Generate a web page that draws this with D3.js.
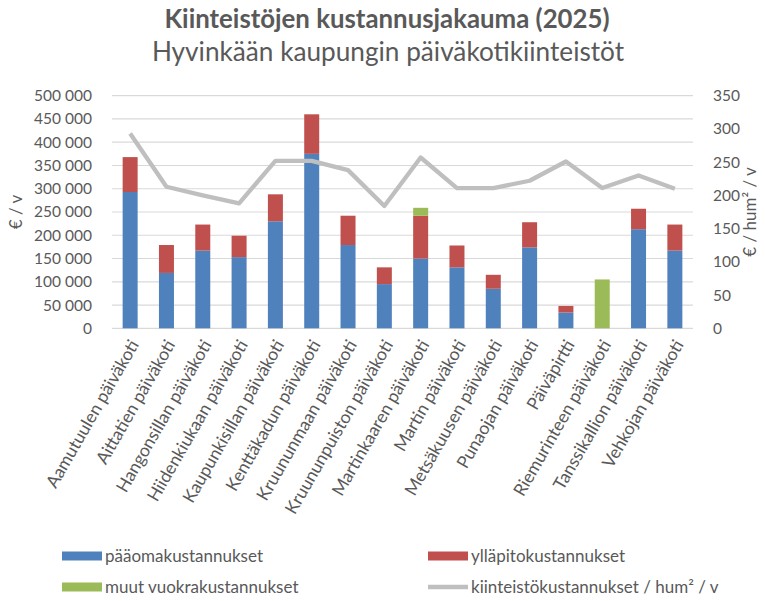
<!DOCTYPE html>
<html>
<head>
<meta charset="utf-8">
<script src="https://cdn.jsdelivr.net/npm/d3@7"></script>
<style>
  body { margin: 0; background: #fff; }
  svg text { font-family: Lato, "Open Sans", sans-serif; fill: #595959; }
</style>
</head>
<body>
<svg id="chart" width="765" height="601"></svg>
<script>
const categories = [
    'Aamutuulen päiväkoti', 'Aittatien päiväkoti', 'Hangonsillan päiväkoti',
    'Hiidenkiukaan päiväkoti', 'Kaupunkisillan päiväkoti', 'Kenttäkadun päiväkoti',
    'Kruununmaan päiväkoti', 'Kruununpuiston päiväkoti', 'Martinkaaren päiväkoti',
    'Martin päiväkoti', 'Metsäkuusen päiväkoti', 'Punaojan päiväkoti',
    'Päiväpirtti', 'Riemurinteen päiväkoti', 'Tanssikallion päiväkoti', 'Vehkojan päiväkoti'
];
// € / v
const capital     = [293000, 119000, 167000, 153000, 230000, 375000, 179000, 95000, 150000, 131000, 85000, 174000, 34000, 0, 213000, 167000];
const maintenance = [75000, 60000, 56000, 46000, 58000, 85000, 63000, 36000, 92000, 47000, 30000, 54000, 14000, 0, 44000, 56000];
const otherRent   = [0, 0, 0, 0, 0, 0, 0, 0, 17000, 0, 0, 0, 0, 105000, 0, 0];
// € / hum² / v
const costPerM2   = [293, 213, 200, 188, 252, 252, 238, 184, 257, 211, 211, 222, 251, 211, 230, 210];

const leftTicks = d3.range(0, 500001, 50000);
const rightTicks = d3.range(0, 351, 50);

const seriesNames = ['pääomakustannukset', 'ylläpitokustannukset', 'muut vuokrakustannukset'];
const lineName = 'kiinteistökustannukset / hum² / v';
const colors = ['#4f81bd', '#c0504d', '#9bbb59'];
const lineColor = '#bfbfbf';

const svg = d3.select('#chart');
const plot = {left: 112, right: 693, top: 95.7, bottom: 328.3};

const x = d3.scaleBand()
    .domain(categories)
    .range([plot.left, plot.right])
    .paddingInner(0.587)
    .paddingOuter(0.293);
const yLeft = d3.scaleLinear().domain([0, 500000]).range([plot.bottom, plot.top]);
const yRight = d3.scaleLinear().domain([0, 350]).range([plot.bottom, plot.top]);

const fmt = d3.formatLocale({decimal: ',', thousands: ' ', grouping: [3], currency: ['', '€']}).format(',d');

// gridlines
svg.append('g')
    .selectAll('line')
    .data(leftTicks)
    .enter()
    .append('line')
    .attr('x1', plot.left)
    .attr('x2', plot.right)
    .attr('y1', d => yLeft(d))
    .attr('y2', d => yLeft(d))
    .attr('stroke', '#d9d9d9')
    .attr('stroke-width', 1.2);

// stacked bars
const rows = categories.map((c, i) => ({
    name: c, s0: capital[i], s1: maintenance[i], s2: otherRent[i]
}));
const stack = d3.stack().keys(['s0', 's1', 's2'])(rows);

svg.append('g')
    .selectAll('g')
    .data(stack)
    .enter()
    .append('g')
    .attr('fill', (d, i) => colors[i])
    .selectAll('rect')
    .data(d => d)
    .enter()
    .append('rect')
    .attr('x', d => x(d.data.name))
    .attr('width', x.bandwidth())
    .attr('y', d => yLeft(d[1]))
    .attr('height', d => yLeft(d[0]) - yLeft(d[1]));

// line on right axis
const line = d3.line()
    .x((d, i) => x(categories[i]) + x.bandwidth() / 2)
    .y(d => yRight(d));

svg.append('path')
    .datum(costPerM2)
    .attr('d', line)
    .attr('fill', 'none')
    .attr('stroke', lineColor)
    .attr('stroke-width', 4.3)
    .attr('stroke-linejoin', 'round');

// axes
const leftAxis = svg.append('g')
    .attr('transform', 'translate(' + (plot.left - 17) + ',0)')
    .call(d3.axisLeft(yLeft).tickValues(leftTicks).tickFormat(fmt).tickSize(0));
const rightAxis = svg.append('g')
    .attr('transform', 'translate(' + (plot.right + 17) + ',0)')
    .call(d3.axisRight(yRight).tickValues(rightTicks).tickSize(0));
[leftAxis, rightAxis].forEach(a => {
    a.select('.domain').remove();
    a.selectAll('text')
        .attr('fill', '#595959')
        .style('font-size', '15.5px')
        .attr('font-family', null);
});

const xAxis = svg.append('g')
    .attr('transform', 'translate(0,' + plot.bottom + ')')
    .call(d3.axisBottom(x).tickSize(0));
xAxis.select('.domain').remove();
xAxis.selectAll('text')
    .attr('fill', '#595959')
    .style('font-size', '17.5px')
    .attr('font-family', null)
    .attr('text-anchor', 'end')
    .attr('dy', '0.35em')
    .attr('transform', 'translate(4,13) rotate(-60)')
    .attr('y', 0);

// axis titles
svg.append('text')
    .attr('transform', 'translate(22,212) rotate(-90)')
    .attr('text-anchor', 'middle')
    .style('font-size', '17px')
    .text('€ / v');
svg.append('text')
    .attr('transform', 'translate(756,212) rotate(-90)')
    .attr('text-anchor', 'middle')
    .style('font-size', '17px')
    .text('€ / hum² / v');

// titles
svg.append('text')
    .attr('x', 387)
    .attr('y', 28)
    .attr('text-anchor', 'middle')
    .style('font-size', '25.8px')
    .style('font-weight', 'bold')
    .text('Kiinteistöjen kustannusjakauma (2025)');
svg.append('text')
    .attr('x', 388)
    .attr('y', 61)
    .attr('text-anchor', 'middle')
    .style('font-size', '26.2px')
    .text('Hyvinkään kaupungin päiväkotikiinteistöt');

// legend
const legendItems = [
    {label: seriesNames[0], color: colors[0], type: 'rect', lx: 62, ly: 556},
    {label: seriesNames[1], color: colors[1], type: 'rect', lx: 428, ly: 556},
    {label: seriesNames[2], color: colors[2], type: 'rect', lx: 62, ly: 587},
    {label: lineName, color: lineColor, type: 'line', lx: 428, ly: 587}
];
const legend = svg.append('g')
    .selectAll('g')
    .data(legendItems)
    .enter()
    .append('g')
    .attr('transform', d => 'translate(' + d.lx + ',' + d.ly + ')');
legend.filter(d => d.type === 'rect')
    .append('rect')
    .attr('x', 0).attr('y', -4.5)
    .attr('width', 40).attr('height', 9)
    .attr('fill', d => d.color);
legend.filter(d => d.type === 'line')
    .append('line')
    .attr('x1', 0).attr('x2', 40)
    .attr('stroke', d => d.color)
    .attr('stroke-width', 4.3);
legend.append('text')
    .attr('x', 43)
    .attr('dy', '0.35em')
    .style('font-size', '17px')
    .text(d => d.label);
</script>
</body>
</html>
